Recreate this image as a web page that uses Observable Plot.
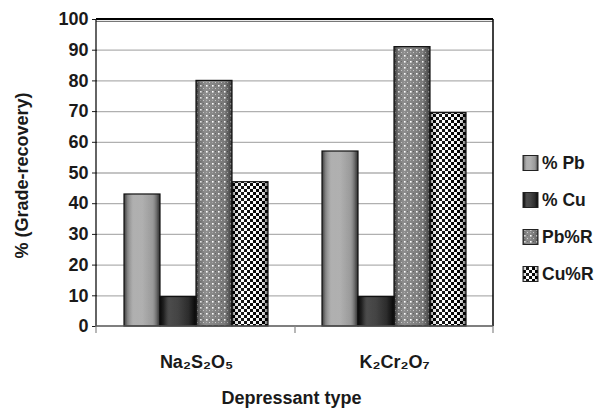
<!DOCTYPE html>
<html><head><meta charset="utf-8">
<script src="https://cdn.jsdelivr.net/npm/d3@7"></script>
<script src="https://cdn.jsdelivr.net/npm/@observablehq/plot@0.6"></script>
<style>
body{margin:0;background:#fff}
svg{font-family:"Liberation Sans",Arial,Helvetica,sans-serif;font-weight:bold}
</style>
</head><body><div id="chart"></div>
<script>
// ---- data ----
const categories = ["Na₂S₂O₅", "K₂Cr₂O₇"];
const series = ["% Pb", "% Cu", "Pb%R", "Cu%R"];
const pbGrade = [43, 57];
const cuGrade = [9.6, 9.6];
const pbRecovery = [80, 91];
const cuRecovery = [47, 69.5];
const yTicks = [0, 10, 20, 30, 40, 50, 60, 70, 80, 90, 100];
const xTitle = "Depressant type";
const yTitle = "% (Grade-recovery)";

const valuesBySeries = [pbGrade, cuGrade, pbRecovery, cuRecovery];
const rows = [];
categories.forEach((cat, ci) => series.forEach((s, si) => rows.push({cat, series: s, value: valuesBySeries[si][ci]})));

const fills = ["url(#fillPb)", "url(#fillCu)", "url(#patPbR)", "url(#patCuR)"];

const W = 597, H = 412, mL = 96, mR = 104, mT = 19, mB = 86;
const FONT = '"Liberation Sans",Arial,Helvetica,sans-serif';

const plot = Plot.plot({
  width: W, height: H,
  marginLeft: mL, marginRight: mR, marginTop: mT, marginBottom: mB,
  style: {fontFamily: FONT, fontWeight: "bold", fontSize: "18px", color: "#1a1a1a", background: "#fff"},
  fx: {domain: categories, padding: 0, label: null, tickSize: 0, tickPadding: 29},
  x: {domain: series, paddingInner: 0, paddingOuter: 0.74, axis: null},
  y: {domain: [0, 100], ticks: yTicks, tickSize: 5, tickPadding: 4, label: null},
  color: {domain: series, range: fills},
  marks: [
    Plot.ruleY(yTicks.filter(d => d > 0), {stroke: "#b0b0b0", strokeWidth: 1.3}),
    Plot.barY(rows, {fx: "cat", x: "series", y: "value", fill: "series"}),
    Plot.barY(rows, {fx: "cat", x: "series", y: "value", fill: "url(#shade)", stroke: "#111", strokeWidth: 1.2})
  ]
});

const svg = d3.select(plot);
const defs = svg.append("defs");

// bevel shading overlay
const sh = defs.append("linearGradient").attr("id", "shade").attr("x1", 0).attr("x2", 1).attr("y1", 0).attr("y2", 0);
[[0, "#000", 0.55], [0.1, "#000", 0.15], [0.25, "#fff", 0.12], [0.5, "#fff", 0.05], [0.8, "#000", 0.05], [0.9, "#000", 0.25], [1, "#000", 0.6]]
  .forEach(([o, c, a]) => sh.append("stop").attr("offset", o).attr("stop-color", c).attr("stop-opacity", a));

const gPb = defs.append("linearGradient").attr("id", "fillPb").attr("x1", 0).attr("x2", 1);
[[0, "#8a8a8a"], [0.15, "#a2a2a2"], [0.5, "#acacac"], [0.85, "#a0a0a0"], [1, "#7a7a7a"]]
  .forEach(([o, c]) => gPb.append("stop").attr("offset", o).attr("stop-color", c));
const gCu = defs.append("linearGradient").attr("id", "fillCu").attr("x1", 0).attr("x2", 1);
[[0, "#1a1a1a"], [0.2, "#333"], [0.5, "#3a3a3a"], [0.8, "#2e2e2e"], [1, "#151515"]]
  .forEach(([o, c]) => gCu.append("stop").attr("offset", o).attr("stop-color", c));

// dotted pattern
const p1 = defs.append("pattern").attr("id", "patPbR").attr("patternUnits", "userSpaceOnUse").attr("width", 6).attr("height", 6);
p1.append("rect").attr("width", 6).attr("height", 6).attr("fill", "#7e7e7e");
p1.append("rect").attr("x", 1).attr("y", 1).attr("width", 1.6).attr("height", 1.6).attr("fill", "#fff");
p1.append("rect").attr("x", 4).attr("y", 4).attr("width", 1).attr("height", 1).attr("fill", "#c8c8c8");
p1.append("rect").attr("x", 4).attr("y", 1).attr("width", 1).attr("height", 1).attr("fill", "#5c5c5c");
p1.append("rect").attr("x", 1).attr("y", 4).attr("width", 1).attr("height", 1).attr("fill", "#a0a0a0");

// checker pattern
const p2 = defs.append("pattern").attr("id", "patCuR").attr("patternUnits", "userSpaceOnUse").attr("width", 6).attr("height", 6);
p2.append("rect").attr("width", 6).attr("height", 6).attr("fill", "#fff");
p2.append("rect").attr("width", 3).attr("height", 3).attr("fill", "#000");
p2.append("rect").attr("x", 3).attr("y", 3).attr("width", 3).attr("height", 3).attr("fill", "#000");

// frame & axis lines from scales
const y = plot.scale("y");
const y0 = y.apply(0), y100 = y.apply(100);
const xL = mL, xR = W - mR;
const fx = plot.scale("fx");
const g = svg.append("g");
g.append("line").attr("x1", xL).attr("x2", xR).attr("y1", y100).attr("y2", y100).attr("stroke", "#000").attr("stroke-width", 2);
g.append("line").attr("x1", xL).attr("x2", xR).attr("y1", y100 + 2.5).attr("y2", y100 + 2.5).attr("stroke", "#555").attr("stroke-width", 0.8);
g.append("line").attr("x1", xR).attr("x2", xR).attr("y1", y100).attr("y2", y0).attr("stroke", "#000").attr("stroke-width", 1.5);
g.append("line").attr("x1", xL).attr("x2", xL).attr("y1", y100).attr("y2", y0).attr("stroke", "#111").attr("stroke-width", 1.3);
g.append("line").attr("x1", xL).attr("x2", xR).attr("y1", y0).attr("y2", y0).attr("stroke", "#555").attr("stroke-width", 1.3);
const bounds = [xL, ...categories.map(c => fx.apply(c) + fx.bandwidth)];
bounds.forEach(bx => g.append("line").attr("x1", bx).attr("x2", bx).attr("y1", y0).attr("y2", y0 + 7).attr("stroke", "#888").attr("stroke-width", 1.2));

// titles
svg.append("text").attr("x", (xL + xR) / 2 - 3).attr("y", 404).attr("text-anchor", "middle")
  .attr("font-size", 18).attr("font-weight", "bold").attr("fill", "#1a1a1a").text(xTitle);
svg.append("text").attr("transform", `translate(28,${(y0 + y100) / 2 + 3}) rotate(-90)`).attr("text-anchor", "middle")
  .attr("font-size", 18).attr("font-weight", "bold").attr("fill", "#1a1a1a").text(yTitle);

// legend
const lg = svg.append("g").attr("transform", `translate(${xR + 30},0)`);
series.forEach((s, i) => {
  const cy = 163 + i * 37;
  lg.append("rect").attr("x", 0).attr("y", cy - 7.5).attr("width", 15).attr("height", 15).attr("fill", fills[i]);
  lg.append("rect").attr("x", 0).attr("y", cy - 7.5).attr("width", 15).attr("height", 15).attr("fill", "url(#shade)").attr("stroke", "#222").attr("stroke-width", 1);
  lg.append("text").attr("x", 19).attr("y", cy + 6).attr("text-anchor", "start")
    .attr("font-size", 17.5).attr("font-weight", "bold").attr("fill", "#1a1a1a").text(s);
});

document.getElementById("chart").appendChild(plot);
</script>
</body></html>
